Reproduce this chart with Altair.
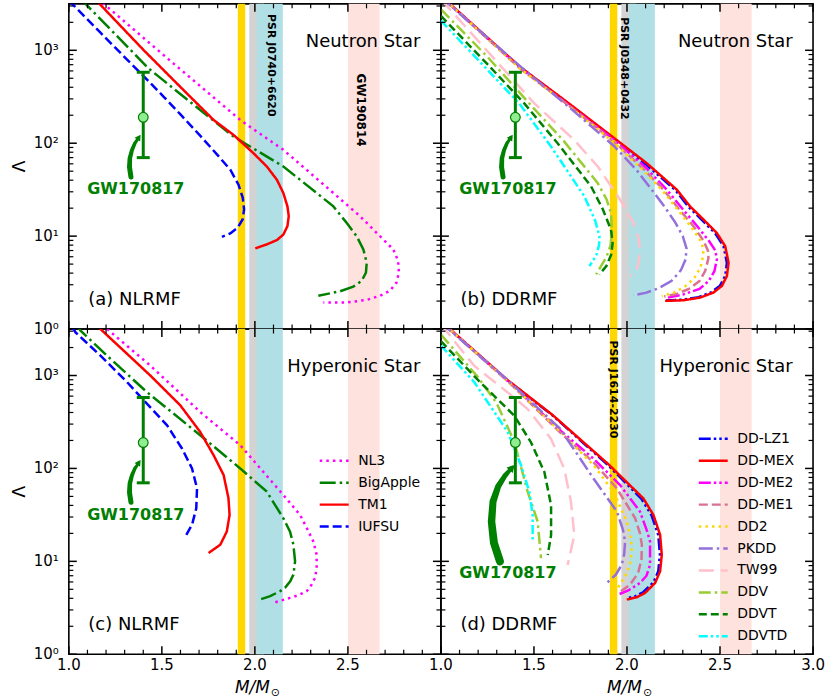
import altair as alt
import pandas as pd

# ---------------- data ----------------
NL_NAMES = ["NL3", "BigApple", "TM1", "IUFSU"]
NL_COLORS = ["#FF00FF", "#008000", "#FF0000", "#0000FF"]
NL_DASHES = [[2.5, 4.1], [16, 4, 2.5, 4], [1, 0], [9, 4]]

DD_NAMES = ["DD-LZ1", "DD-MEX", "DD-ME2", "DD-ME1", "DD2", "PKDD", "TW99", "DDV", "DDVT", "DDVTD"]
DD_COLORS = ["#0000FF", "#FF0000", "#FF00FF", "#DB7093", "#FFD700", "#9370DB",
             "#FFC0CB", "#9ACD32", "#008000", "#00FFFF"]
DD_DASHES = [[12, 3, 2.5, 3, 2.5, 3], [1, 0], [12, 3, 2.5, 3, 2.5, 3], [9, 4], [2.5, 4.1],
             [14, 4, 2.5, 4], [15, 7], [12, 4, 2.5, 4], [8, 4], [9, 3, 2.5, 3, 2.5, 3]]

# (a) NLRMF, neutron star
A_NL3_M = [1.16, 1.188, 1.563, 1.921, 2.153, 2.422, 2.565, 2.69, 2.744, 2.77, 2.774, 2.761, 2.726, 2.672, 2.601, 2.493, 2.368]
A_NL3_L = [3650, 3162, 719, 178, 84.9, 29.1, 16.4, 9.2, 7.19, 5.4, 4.05, 3.16, 2.58, 2.28, 2.06, 1.93, 1.93]
A_BA_M = [1.06, 1.09, 1.429, 1.706, 1.885, 2.153, 2.332, 2.422, 2.493, 2.547, 2.583, 2.601, 2.597, 2.574, 2.529, 2.458, 2.341]
A_BA_L = [3650, 3162, 637, 228, 118, 56.2, 29.1, 20.9, 13.9, 10, 7.19, 5.18, 4.05, 3.3, 2.86, 2.55, 2.28]
A_TM1_M = [1.12, 1.165, 1.403, 1.617, 1.778, 1.885, 1.992, 2.064, 2.118, 2.153, 2.175, 2.182, 2.175, 2.153, 2.118, 2.064, 2.002]
A_TM1_L = [3940, 3162, 1000, 372, 178, 123, 78.2, 56.2, 40.5, 29.1, 20.9, 16.4, 12.8, 10.4, 9.06, 8.15, 7.38]
A_IU_M = [1.0, 1.027, 1.17, 1.313, 1.403, 1.51, 1.6, 1.707, 1.796, 1.868, 1.912, 1.935, 1.942, 1.934, 1.907, 1.868, 1.823]
A_IU_L = [3410, 3034, 1549, 794, 525, 316, 204, 120, 75.9, 51.8, 35.8, 25.8, 19.3, 15.1, 12.3, 10.7, 9.84]

# (c) NLRMF, hyperonic star
C_NL3_M = [1.18, 1.206, 1.438, 1.706, 1.921, 2.153, 2.243, 2.279, 2.314, 2.332, 2.332, 2.323, 2.305, 2.279, 2.234, 2.189, 2.1]
C_NL3_L = [3548, 3162, 1279, 405, 178, 51.8, 31.6, 22.8, 16.4, 11.8, 8.49, 6.62, 5.62, 4.78, 4.32, 4.05, 3.58]
C_BA_M = [1.04, 1.063, 1.224, 1.42, 1.706, 1.921, 2.064, 2.153, 2.189, 2.207, 2.216, 2.207, 2.19, 2.162, 2.136, 2.082, 2.028]
C_BA_L = [3548, 3034, 1510, 662, 228, 100, 56.2, 29.1, 20.9, 15.1, 10, 7.19, 6.11, 5.18, 4.78, 4.22, 3.88]
C_TM1_M = [1.14, 1.17, 1.438, 1.599, 1.706, 1.778, 1.832, 1.858, 1.864, 1.849, 1.814, 1.751]
C_TM1_L = [3850, 3162, 1000, 478, 247, 139, 84.9, 47.8, 31.6, 20.9, 15.1, 12.3]
C_IU_M = [1.02, 1.036, 1.17, 1.313, 1.403, 1.528, 1.608, 1.662, 1.689, 1.685, 1.662, 1.626]
C_IU_L = [3311, 2911, 1637, 849, 540, 291, 164, 100, 61.1, 37.2, 24.7, 18.5]

# (b) DDRMF, neutron star
B_LZ1_M = [1.0, 1.045, 1.425, 1.7, 1.94, 2.1, 2.26, 2.33, 2.402, 2.474, 2.519, 2.537, 2.528, 2.5, 2.455, 2.385, 2.3, 2.21]
B_LZ1_L = [3800, 3162, 655, 253, 106, 59.5, 31.3, 20.7, 15.0, 10.7, 7.8, 5.16, 3.72, 2.93, 2.5, 2.2, 2.07, 2.03]
B_MEX_M = [1.0, 1.048, 1.425, 1.7, 1.945, 2.106, 2.268, 2.339, 2.411, 2.483, 2.528, 2.546, 2.537, 2.51, 2.465, 2.393, 2.303, 2.205]
B_MEX_L = [3855, 3162, 664, 257, 108, 61, 31.6, 20.9, 15.1, 10.8, 7.8, 5.16, 3.72, 2.91, 2.47, 2.18, 2.04, 2.01]
B_ME2_M = [1.0, 1.045, 1.425, 1.7, 1.94, 2.1, 2.214, 2.3, 2.38, 2.44, 2.475, 2.483, 2.47, 2.44, 2.39, 2.3, 2.22]
B_ME2_L = [3800, 3162, 646, 245, 105, 55, 31.6, 19.5, 12.6, 8.9, 7.0, 5.6, 4.2, 3.3, 2.7, 2.35, 2.18]
B_ME1_M = [1.0, 1.045, 1.425, 1.7, 1.935, 2.09, 2.196, 2.28, 2.36, 2.41, 2.435, 2.438, 2.42, 2.39, 2.34, 2.27, 2.2]
B_ME1_L = [3800, 3162, 638, 243, 102, 52.5, 31.6, 19.5, 12.6, 9.0, 7.0, 5.8, 4.2, 3.3, 2.75, 2.4, 2.24]
B_DD2_M = [1.0, 1.045, 1.425, 1.7, 1.935, 2.09, 2.187, 2.27, 2.34, 2.39, 2.408, 2.411, 2.395, 2.36, 2.31, 2.25, 2.187]
B_DD2_L = [3800, 3162, 638, 240, 100, 50.1, 31.6, 19.5, 12.9, 9.3, 7.6, 6.3, 4.6, 3.5, 2.85, 2.45, 2.27]
B_PK_M = [1.0, 1.04, 1.425, 1.7, 1.93, 2.05, 2.133, 2.2, 2.26, 2.3, 2.32, 2.315, 2.29, 2.24, 2.17, 2.1, 2.034]
B_PK_L = [3800, 3162, 676, 234, 93.3, 52, 31.6, 21, 14, 10, 7.4, 5.6, 4.3, 3.3, 2.75, 2.45, 2.31]
B_TW_M = [1.0, 1.25, 1.502, 1.717, 1.843, 1.963, 2.034, 2.062, 2.07, 2.065, 2.052, 2.017]
B_TW_L = [3548, 977, 268, 108, 56.2, 24.7, 13.9, 9.5, 7.18, 5.6, 4.39, 3.72]
B_DDV_M = [1.0, 1.25, 1.475, 1.663, 1.843, 1.89, 1.914, 1.92, 1.912, 1.89, 1.834]
B_DDV_L = [2754, 851, 268, 104, 37.2, 25, 17.8, 11.2, 8.0, 6.0, 3.87]
B_DDVT_M = [1.0, 1.25, 1.448, 1.627, 1.807, 1.87, 1.914, 1.923, 1.915, 1.89, 1.852]
B_DDVT_L = [2344, 708, 268, 100, 34.3, 19.5, 11.7, 8.47, 6.3, 4.8, 3.87]
B_DDVTD_M = [1.0, 1.2, 1.421, 1.592, 1.771, 1.83, 1.852, 1.85, 1.835, 1.798]
B_DDVTD_L = [2089, 787, 268, 92, 26.8, 14.5, 10, 8.0, 6.2, 4.76]

# (d) DDRMF, hyperonic star
D_LZ1_M = [1.0, 1.045, 1.359, 1.6, 1.895, 2.078, 2.132, 2.168, 2.177, 2.168, 2.141, 2.087, 2.043, 1.995]
D_LZ1_L = [3800, 3162, 881, 372, 110, 47, 31.3, 19.3, 11.8, 7.8, 5.9, 4.65, 4.2, 3.98]
D_MEX_M = [1.0, 1.048, 1.359, 1.6, 1.9, 2.088, 2.142, 2.178, 2.187, 2.178, 2.151, 2.097, 2.053, 1.999]
D_MEX_L = [3855, 3162, 891, 376, 111, 47.6, 31.6, 19.3, 11.8, 7.8, 5.85, 4.57, 4.11, 3.88]
D_ME2_M = [1.0, 1.045, 1.359, 1.64, 1.819, 1.963, 2.07, 2.105, 2.124, 2.124, 2.105, 2.07, 2.01, 1.954]
D_ME2_L = [3800, 3162, 871, 258, 128, 66.2, 34.3, 22, 16.4, 9.2, 7.0, 5.85, 4.9, 4.4]
D_ME1_M = [1.0, 1.045, 1.359, 1.64, 1.819, 1.945, 2.044, 2.07, 2.08, 2.078, 2.06, 2.017, 1.954]
D_ME1_L = [3800, 3162, 871, 245, 117, 61.1, 29.1, 20, 15.1, 10.5, 7.5, 5.62, 4.57]
D_DD2_M = [1.0, 1.045, 1.359, 1.64, 1.819, 1.927, 1.999, 2.02, 2.026, 2.02, 2.0, 1.946]
D_DD2_L = [3800, 3162, 871, 251, 109, 56.2, 26.8, 18, 13.9, 10, 7.5, 4.97]
D_PK_M = [1.0, 1.04, 1.359, 1.64, 1.82, 1.946, 1.978, 1.99, 1.985, 1.972, 1.94, 1.882]
D_PK_L = [3800, 3162, 891, 269, 78, 34.3, 22, 16.4, 12, 9.2, 7.2, 5.62]
D_TW_M = [1.0, 1.179, 1.359, 1.466, 1.592, 1.663, 1.699, 1.717, 1.681]
D_TW_L = [3548, 1271, 658, 436, 208, 99, 43.6, 19.1, 9.12]
D_DDV_M = [1.0, 1.2, 1.3, 1.394, 1.466, 1.52, 1.538]
D_DDV_L = [2754, 955, 501, 195, 56.2, 26.8, 10.8]
D_DDVT_M = [1.0, 1.2, 1.394, 1.484, 1.556, 1.592, 1.592, 1.574]
D_DDVT_L = [2344, 891, 370, 191, 91.4, 40.1, 19.1, 11.7]
D_DDVTD_M = [1.0, 1.179, 1.359, 1.43, 1.475, 1.493, 1.493]
D_DDVTD_L = [2099, 849, 247, 109, 56.2, 31.6, 16.4]

# observational bands (M/Msun)
BAND_LO = [1.908, 1.97, 2.01, 2.50]
BAND_HI = [1.948, 2.05, 2.15, 2.67]
BAND_COLOR = ["#FFD700", "#D3D3D3", "#B0DFE5", "#FDE2DE"]

# GW170817 constraint
GW_M = 1.4
GW_L = 190
GW_LO = 70
GW_HI = 580

# arrows (path points + widths)
ARROW1_M = [1.334, 1.326, 1.328, 1.339, 1.355, 1.377]
ARROW1_L = [43.2, 55.2, 69.0, 84.0, 100, 116]
ARROW1_W = [5, 5, 4.5, 4, 3.5, 2.5]
ARROW2_M = [1.317, 1.285, 1.272, 1.28, 1.307, 1.344, 1.382]
ARROW2_L = [10, 15.8, 26.8, 44, 63.6, 83.4, 102]
ARROW2_W = [8, 8, 7.5, 7, 6, 5, 3.5]

PANEL_LABELS = ["(a) NLRMF", "(b) DDRMF", "(c) NLRMF", "(d) DDRMF"]
STAR_LABELS = ["Neutron Star", "Neutron Star", "Hyperonic Star", "Hyperonic Star"]

X_MAJOR = [1.0, 1.5, 2.0, 2.5, 3.0]
X_TICK_LABELS = ["1.0", "1.5", "2.0", "2.5", "3.0"]
X_MINOR = [1.1, 1.2, 1.3, 1.4, 1.6, 1.7, 1.8, 1.9, 2.1, 2.2, 2.3, 2.4, 2.6, 2.7, 2.8, 2.9]
Y_MAJOR = [1, 10, 100, 1000]
Y_TICK_LABELS = ["10⁰", "10¹", "10²", "10³"]
Y_MINOR = [2, 3, 4, 5, 6, 7, 8, 9, 20, 30, 40, 50, 60, 70, 80, 90,
           200, 300, 400, 500, 600, 700, 800, 900, 2000, 3000]
X_TITLE = "M/M"
X_TITLE_SUB = "⊙"
Y_TITLE = "Λ"

# ---------------- helpers ----------------
W, H = 373, 326
YMAX = 3162.2776
XS = alt.Scale(domain=[1.0, 3.0], nice=False, zero=False)
YS = alt.Scale(type="log", domain=[1, YMAX], nice=False)
FONT = "DejaVu Sans"
GREEN = "#008000"
TMAJ, TMIN = 8, 4.5


def xq(f="M"):
    return alt.X(f"{f}:Q", scale=XS, axis=None)


def yq(f="L"):
    return alt.Y(f"{f}:Q", scale=YS, axis=None)


def curve_df(names, Ms, Ls):
    rows = []
    for n, ms, ls in zip(names, Ms, Ls):
        for i, (m, l) in enumerate(zip(ms, ls)):
            rows.append({"model": n, "M": m, "L": l, "i": i})
    return pd.DataFrame(rows)


def tick_layers():
    xmaj = alt.Chart(pd.DataFrame({"v": X_MAJOR}))
    xmin = alt.Chart(pd.DataFrame({"v": X_MINOR}))
    ymaj = alt.Chart(pd.DataFrame({"v": Y_MAJOR}))
    ymin = alt.Chart(pd.DataFrame({"v": Y_MINOR}))
    rmaj = dict(color="black", strokeWidth=1.5)
    rmin = dict(color="black", strokeWidth=1.2)
    return [
        xmaj.mark_rule(**rmaj).encode(x=xq("v"), y=alt.value(H - TMAJ), y2=alt.value(H)),
        xmaj.mark_rule(**rmaj).encode(x=xq("v"), y=alt.value(0), y2=alt.value(TMAJ)),
        xmin.mark_rule(**rmin).encode(x=xq("v"), y=alt.value(H - TMIN), y2=alt.value(H)),
        xmin.mark_rule(**rmin).encode(x=xq("v"), y=alt.value(0), y2=alt.value(TMIN)),
        ymaj.mark_rule(**rmaj).encode(y=yq("v"), x=alt.value(0), x2=alt.value(TMAJ)),
        ymaj.mark_rule(**rmaj).encode(y=yq("v"), x=alt.value(W - TMAJ), x2=alt.value(W)),
        ymin.mark_rule(**rmin).encode(y=yq("v"), x=alt.value(0), x2=alt.value(TMIN)),
        ymin.mark_rule(**rmin).encode(y=yq("v"), x=alt.value(W - TMIN), x2=alt.value(W)),
    ]


def label_layers(k, xlab, ylab):
    out = []
    if xlab:
        n = 5 if k % 2 == 1 else 4
        xl = pd.DataFrame({"v": X_MAJOR[:n], "t": X_TICK_LABELS[:n]})
        out.append(alt.Chart(xl).mark_text(font=FONT, fontSize=15, color="black",
                                           align="center", baseline="top").encode(
            x=xq("v"), y=alt.value(H + 4), text="t:N"))
        out.append(alt.Chart(pd.DataFrame({"t": [X_TITLE]})).mark_text(
            font=FONT, fontSize=17, fontStyle="italic", color="black", align="right",
            baseline="top").encode(x=alt.value(W / 2 + 15), y=alt.value(H + 26), text="t:N"))
        out.append(alt.Chart(pd.DataFrame({"t": [X_TITLE_SUB]})).mark_text(
            font=FONT, fontSize=11, color="black", align="left",
            baseline="top").encode(x=alt.value(W / 2 + 16), y=alt.value(H + 33), text="t:N"))
    if ylab:
        yl = pd.DataFrame({"v": Y_MAJOR, "t": Y_TICK_LABELS})
        out.append(alt.Chart(yl).mark_text(font=FONT, fontSize=15, color="black",
                                           align="right", baseline="middle").encode(
            y=yq("v"), x=alt.value(-10), text="t:N"))
        out.append(alt.Chart(pd.DataFrame({"t": [Y_TITLE]})).mark_text(
            font=FONT, fontSize=17, color="black", angle=270, align="center",
            baseline="middle").encode(x=alt.value(-49), y=alt.value(H / 2), text="t:N"))
    return out


def panel(k, cdf, names, colors, dashes, legend, band_texts, gw_text_L, arrow, xlab, ylab):
    layers = []
    bands = pd.DataFrame({"lo": BAND_LO, "hi": BAND_HI, "c": BAND_COLOR,
                          "ylo": [1] * 4, "yhi": [YMAX] * 4})
    layers.append(alt.Chart(bands).mark_rect().encode(
        x=xq("lo"), x2="hi:Q", y=yq("ylo"), y2="yhi:Q",
        fill=alt.Fill("c:N", scale=None)))
    if band_texts:
        bt = pd.DataFrame(band_texts, columns=["t", "M", "L", "s"])
        layers.append(alt.Chart(bt).mark_text(angle=90, align="left", baseline="middle",
                                              fontWeight="bold", font=FONT, color="black").encode(
            x=xq(), y=yq(), text="t:N", size=alt.Size("s:Q", scale=None)))
    enc = dict(
        x=xq(), y=yq(),
        color=alt.Color("model:N", scale=alt.Scale(domain=names, range=colors),
                        legend=legend, sort=names),
        strokeDash=alt.StrokeDash("model:N", scale=alt.Scale(domain=names, range=dashes),
                                  legend=legend, sort=names),
        order=alt.Order("i:Q"))
    layers.append(alt.Chart(cdf).mark_line(strokeWidth=2.5, clip=True).encode(**enc))
    # arrow
    am, al, aw, hang, hsize = arrow
    adf = pd.DataFrame({"M": am, "L": al, "w": aw, "i": list(range(len(am)))})
    layers.append(alt.Chart(adf).mark_trail(color=GREEN).encode(
        x=xq(), y=yq(), size=alt.Size("w:Q", scale=None), order=alt.Order("i:Q")))
    hdf = pd.DataFrame({"M": [am[-1]], "L": [al[-1]]})
    layers.append(alt.Chart(hdf).mark_point(shape="triangle-up", filled=True, color=GREEN,
                                            opacity=1, size=hsize, angle=hang).encode(x=xq(), y=yq()))
    # error bar
    eb = pd.DataFrame({"M": [GW_M], "lo": [GW_LO], "hi": [GW_HI], "L": [GW_L]})
    layers.append(alt.Chart(eb).mark_rule(color=GREEN, strokeWidth=3).encode(
        x=xq(), y=yq("lo"), y2="hi:Q"))
    caps = pd.DataFrame({"M": [GW_M, GW_M], "L": [GW_LO, GW_HI]})
    layers.append(alt.Chart(caps).mark_tick(color=GREEN, orient="horizontal", size=13,
                                            thickness=3, opacity=1).encode(x=xq(), y=yq()))
    layers.append(alt.Chart(eb).mark_point(shape="circle", filled=True, fill="#90EE90",
                                           stroke=GREEN, strokeWidth=1.2, size=95,
                                           opacity=1).encode(x=xq(), y=yq()))
    # texts
    gdf = pd.DataFrame({"M": [1.36], "L": [gw_text_L], "t": ["GW170817"]})
    layers.append(alt.Chart(gdf).mark_text(font=FONT, fontSize=16, fontWeight="bold",
                                           color=GREEN, align="center", baseline="middle").encode(
        x=xq(), y=yq(), text="t:N"))
    pl = pd.DataFrame({"M": [1.105], "L": [1.82], "t": [PANEL_LABELS[k]]})
    layers.append(alt.Chart(pl).mark_text(font=FONT, fontSize=18, color="black", align="left",
                                          baseline="alphabetic").encode(x=xq(), y=yq(), text="t:N"))
    sl = pd.DataFrame({"M": [2.89], "L": [1090], "t": [STAR_LABELS[k]]})
    layers.append(alt.Chart(sl).mark_text(font=FONT, fontSize=18, color="black", align="right",
                                          baseline="alphabetic").encode(x=xq(), y=yq(), text="t:N"))
    layers += tick_layers()
    layers += label_layers(k, xlab, ylab)
    return alt.layer(*layers).properties(width=W, height=H)


def legend_at(x, y):
    return alt.Legend(title=None, orient="none", legendX=x, legendY=y, symbolType="stroke",
                      symbolSize=841, symbolStrokeWidth=2.5, labelFontSize=14, labelFont=FONT,
                      labelColor="black", clipHeight=14, rowPadding=8, labelOffset=8,
                      padding=0, symbolLimit=0)


df_a = curve_df(NL_NAMES, [A_NL3_M, A_BA_M, A_TM1_M, A_IU_M], [A_NL3_L, A_BA_L, A_TM1_L, A_IU_L])
df_c = curve_df(NL_NAMES, [C_NL3_M, C_BA_M, C_TM1_M, C_IU_M], [C_NL3_L, C_BA_L, C_TM1_L, C_IU_L])
df_b = curve_df(DD_NAMES,
                [B_LZ1_M, B_MEX_M, B_ME2_M, B_ME1_M, B_DD2_M, B_PK_M, B_TW_M, B_DDV_M, B_DDVT_M, B_DDVTD_M],
                [B_LZ1_L, B_MEX_L, B_ME2_L, B_ME1_L, B_DD2_L, B_PK_L, B_TW_L, B_DDV_L, B_DDVT_L, B_DDVTD_L])
df_d = curve_df(DD_NAMES,
                [D_LZ1_M, D_MEX_M, D_ME2_M, D_ME1_M, D_DD2_M, D_PK_M, D_TW_M, D_DDV_M, D_DDVT_M, D_DDVTD_M],
                [D_LZ1_L, D_MEX_L, D_ME2_L, D_ME1_L, D_DD2_L, D_PK_L, D_TW_L, D_DDV_L, D_DDVT_L, D_DDVTD_L])

ARROW_SMALL = (ARROW1_M, ARROW1_L, ARROW1_W, 34, 45)
ARROW_BIG = (ARROW2_M, ARROW2_L, ARROW2_W, 41, 70)

pa = panel(0, df_a, NL_NAMES, NL_COLORS, NL_DASHES, None,
           [("PSR J0740+6620", 2.085, 2455, 11), ("GW190814", 2.572, 562, 12)],
           31.8, ARROW_SMALL, False, True)
pb = panel(1, df_b, DD_NAMES, DD_COLORS, DD_DASHES, None,
           [("PSR J0348+0432", 1.984, 2275, 11)], 31.8, ARROW_SMALL, False, False)
pc = panel(2, df_c, NL_NAMES, NL_COLORS, NL_DASHES, legend_at(250, 125), [],
           31.8, ARROW_SMALL, True, True)
pd_ = panel(3, df_d, DD_NAMES, DD_COLORS, DD_DASHES, legend_at(257, 103),
            [("PSR J1614-2230", 1.923, 2377, 11)], 7.5, ARROW_BIG, True, False)

ind = dict(color="independent", strokeDash="independent", x="independent", y="independent")
chart = alt.concat(pa, pb, pc, pd_, columns=2, spacing=0, bounds="flush").resolve_scale(
    **ind).properties(
    padding={"left": 10, "top": 1, "right": 0, "bottom": 0}, background="white"
).configure_view(stroke="black", strokeWidth=1.6)

chart.save("out.html", embed_options={"renderer": "svg", "actions": False})
